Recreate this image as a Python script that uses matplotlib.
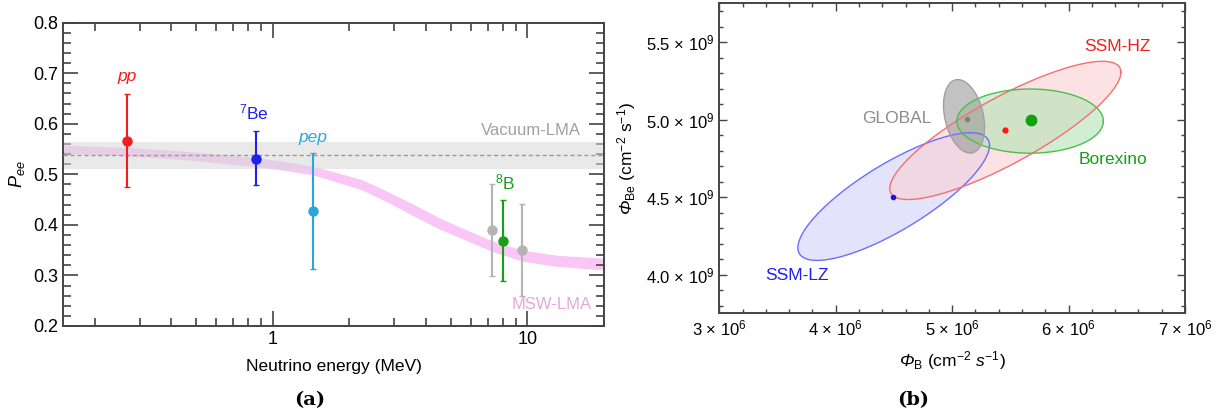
import matplotlib
matplotlib.use("Agg")
import matplotlib.pyplot as plt
import numpy as np
from matplotlib.ticker import FixedLocator, MultipleLocator, FuncFormatter, NullFormatter

plt.rcParams['font.family'] = ['Liberation Sans', 'DejaVu Sans']
plt.rcParams['mathtext.fontset'] = 'custom'
plt.rcParams['mathtext.rm'] = 'Liberation Sans'
plt.rcParams['mathtext.it'] = 'Liberation Sans:italic'
plt.rcParams['mathtext.bf'] = 'Liberation Sans:bold'

# ---- panel (a) data ----
src_names = ['pp', '7Be', 'pep', '8B_sk', '8B', '8B_sno']
src_energy = [0.268, 0.861, 1.437, 7.26, 8.0, 9.55]
src_pee = [0.565, 0.531, 0.428, 0.389, 0.369, 0.350]
src_err_hi = [0.658, 0.586, 0.542, 0.480, 0.450, 0.441]
src_err_lo = [0.474, 0.478, 0.313, 0.299, 0.289, 0.259]
src_colors = ['#f21d1d', '#1f1fef', '#2ba6dc', '#b4b4b4', '#17a017', '#b4b4b4']

vac_lo, vac_mid, vac_hi = 0.511, 0.538, 0.564

msw_energy = [0.15, 0.27, 0.45, 0.68, 0.87, 1.1, 1.44, 1.8, 2.25, 2.8, 3.5, 4.5,
              5.9, 7.3, 9.6, 13.0, 20.0]
msw_upper = [0.558, 0.553, 0.546, 0.538, 0.533, 0.526, 0.516, 0.503, 0.489, 0.467, 0.443, 0.414,
             0.388, 0.368, 0.350, 0.340, 0.334]
msw_lower = [0.542, 0.536, 0.529, 0.520, 0.515, 0.508, 0.499, 0.484, 0.469, 0.446, 0.420, 0.392,
             0.367, 0.347, 0.328, 0.318, 0.311]

# ---- panel (b) data (x in 1e6, y in 1e9) ----
ell_names = ['SSM-LZ', 'SSM-HZ', 'Borexino', 'GLOBAL']
ell_cx = [4.498, 5.457, 5.670, 5.102]
ell_cy = [4.503, 4.930, 4.990, 5.021]
ell_ax = [0.823, 0.993, 0.629, 0.176]
ell_ay = [0.412, 0.446, 0.207, 0.237]
ell_rho = [0.80, 0.84, 0.0, -0.30]
ell_edge = ['#6d6dff', '#f27070', '#4cbf4c', '#a0a0a0']
ell_face = ['#d8d8fb', '#fbd0d0', '#b4e4b4', '#9a9a9a']
ell_alpha = [0.7, 0.6, 0.6, 0.6]
dot_x = [4.495, 5.456, 5.677, 5.130]
dot_y = [4.501, 4.931, 4.994, 5.006]
dot_color = ['#1010ff', '#ff1a1a', '#10a010', '#808080']
dot_size = [3, 3.5, 7.5, 3]
lab_x = [3.665, 6.417, 6.381, 4.524]
lab_y = [3.994, 5.473, 4.742, 5.004]
lab_color = ['#1f1fef', '#f21d1d', '#17a017', '#8c8c8c']

fig = plt.figure(figsize=(12.21, 4.19), dpi=100)
spine_c = '#444444'

# ================= panel (a) =================
ax = fig.add_axes([0.0516, 0.2220, 0.4431, 0.7238])
ax.set_xscale('log')
ax.set_xlim(0.15, 20)
ax.set_ylim(0.2, 0.8)

ax.fill_between(msw_energy, msw_lower, msw_upper, color='#f9c6f6', lw=0, zorder=1)
ax.axhspan(vac_lo, vac_hi, color='#d8d8d8', alpha=0.55, lw=0, zorder=2)
ax.axhline(vac_mid, color='#999999', ls=(0, (3, 2)), lw=1, zorder=3)

for e, p, hi, lo, c in zip(src_energy, src_pee, src_err_hi, src_err_lo, src_colors):
    ax.errorbar([e], [p], yerr=[[p - lo], [hi - p]], fmt='o', color=c, ms=6.5,
                elinewidth=1.5, capsize=2, capthick=1, zorder=4)

ax.text(0.268, 0.693, 'pp', color='#f21d1d', fontsize=12.5, style='italic', ha='center', va='center')
ax.text(0.846, 0.622, r'$^{7}$Be', color='#1f1fef', fontsize=12.5, ha='center', va='center')
ax.text(1.437, 0.573, 'pep', color='#2ba6dc', fontsize=12.5, style='italic', ha='center', va='center')
ax.text(8.17, 0.483, r'$^{8}$B', color='#17a017', fontsize=12.5, ha='center', va='center')
ax.text(16.3, 0.587, 'Vacuum-LMA', color='#a0a0a0', fontsize=12, ha='right', va='center')
ax.text(17.9, 0.2416, 'MSW-LMA', color='#e4a6e4', fontsize=12, ha='right', va='center')

ax.yaxis.set_major_locator(MultipleLocator(0.1))
ax.yaxis.set_minor_locator(MultipleLocator(0.02))
ax.yaxis.set_major_formatter(FuncFormatter(lambda v, p: f'{v:.1f}'))
ax.xaxis.set_major_locator(FixedLocator([1, 10]))
ax.xaxis.set_major_formatter(FuncFormatter(lambda v, p: f'{v:g}'))
ax.xaxis.set_minor_locator(FixedLocator([0.2, 0.3, 0.4, 0.5, 0.6, 0.7, 0.8, 0.9,
                                         2, 3, 4, 5, 6, 7, 8, 9, 20]))
ax.xaxis.set_minor_formatter(NullFormatter())
ax.tick_params(which='both', direction='in', top=True, right=True, color=spine_c,
               labelsize=13, width=1.2)
ax.tick_params(which='major', length=11)
ax.tick_params(which='minor', length=6)
for s in ax.spines.values():
    s.set_color(spine_c)
    s.set_linewidth(1.4)
ax.set_xlabel('Neutrino energy (MeV)', fontsize=12.5, labelpad=8)
ax.set_ylabel(r'$P_{ee}$', fontsize=13, labelpad=4)

# ================= panel (b) =================
bx = fig.add_axes([0.5891, 0.2523, 0.3814, 0.7398])
bx.set_xlim(3.0, 7.0)
bx.set_ylim(3.75, 5.75)

t = np.linspace(0, 2 * np.pi, 300)
for cx, cy, axl, ayl, r, ec, fc, al in zip(ell_cx, ell_cy, ell_ax, ell_ay, ell_rho,
                                           ell_edge, ell_face, ell_alpha):
    xs = cx + axl * np.cos(t)
    ys = cy + ayl * (r * np.cos(t) + np.sqrt(1 - r ** 2) * np.sin(t))
    bx.fill(xs, ys, facecolor=fc, alpha=al, edgecolor='none', zorder=2)
    bx.plot(xs, ys, color=ec, lw=1.0, zorder=3)

for x, y, c, s in zip(dot_x, dot_y, dot_color, dot_size):
    bx.plot(x, y, 'o', color=c, ms=s, zorder=5)
for name, x, y, c in zip(ell_names, lab_x, lab_y, lab_color):
    bx.text(x, y, name, color=c, fontsize=12.5, ha='center', va='center', zorder=6)

bx.xaxis.set_major_locator(MultipleLocator(1.0))
bx.xaxis.set_minor_locator(MultipleLocator(0.2))
bx.yaxis.set_major_locator(MultipleLocator(0.5))
bx.yaxis.set_minor_locator(MultipleLocator(0.1))
bx.xaxis.set_major_formatter(FuncFormatter(lambda v, p: f'{v:.0f} × 10$^6$'))
bx.yaxis.set_major_formatter(FuncFormatter(lambda v, p: f'{v:.1f} × 10$^9$'))
bx.tick_params(which='both', direction='in', top=True, right=True, color=spine_c,
               labelsize=12, width=1.0)
bx.tick_params(which='major', length=5.5)
bx.tick_params(which='minor', length=3)
for s in bx.spines.values():
    s.set_color(spine_c)
    s.set_linewidth(1.4)
# italic Phi as plain text, the rest via mathtext
bx.set_xlabel('Φ' + r'$_{\rm B}$ $\mathrm{(cm^{-2}}\ \mathit{s}^{-1}\mathrm{)}$',
              fontsize=12.5, style='italic', labelpad=8)
bx.set_ylabel('Φ' + r'$_{\rm Be}$ $\mathrm{(cm^{-2}\ s^{-1})}$',
              fontsize=12.5, style='italic', labelpad=6)

fig.text(310 / 1221, 1 - 400 / 419, '(a)', fontsize=14, fontweight='bold',
         family='DejaVu Serif', ha='center', va='center')
fig.text(913 / 1221, 1 - 400 / 419, '(b)', fontsize=14, fontweight='bold',
         family='DejaVu Serif', ha='center', va='center')

fig.savefig('out.png', dpi=100)
